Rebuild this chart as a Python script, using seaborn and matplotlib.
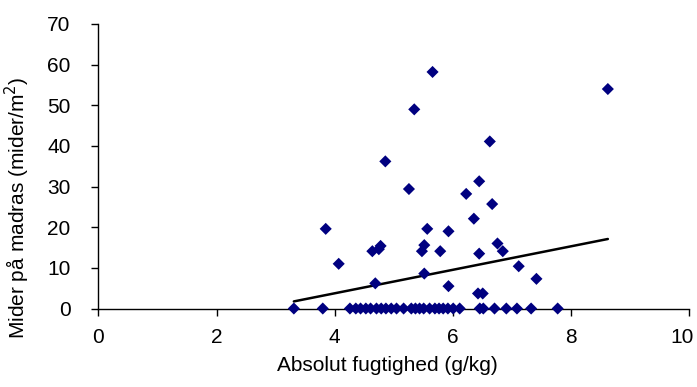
import numpy as np
import matplotlib
matplotlib.use('Agg')
import matplotlib.pyplot as plt
import matplotlib.transforms as mtransforms
import seaborn as sns

# absolute humidity (g/kg) and mites on mattress (mites/m2)
fugt_pos = [5.66, 8.63, 5.35, 6.63, 4.86, 5.26, 6.45, 6.23, 6.67, 6.36,
            3.85, 5.57, 5.93, 4.07, 4.78, 4.64, 4.75, 5.52, 5.48, 5.79,
            6.45, 6.76, 6.85, 7.12, 7.42, 5.52, 4.69, 5.93, 6.43, 6.51]
mider_pos = [58.2, 54.0, 49.0, 41.1, 36.2, 29.4, 31.3, 28.2, 25.7, 22.1,
             19.6, 19.6, 19.0, 11.0, 15.4, 14.1, 14.6, 15.6, 14.1, 14.1,
             13.5, 16.0, 14.1, 10.4, 7.3, 8.6, 6.2, 5.5, 3.7, 3.7]
fugt_zero = [3.31, 3.80, 4.26, 4.36, 4.44, 4.53, 4.61, 4.71, 4.79, 4.87,
             4.96, 5.05, 5.17, 5.30, 5.37, 5.44, 5.51, 5.61, 5.70, 5.77,
             5.84, 5.92, 6.01, 6.12, 6.46, 6.52, 6.71, 6.91, 7.09, 7.33, 7.78]

fugt = np.array(fugt_pos + fugt_zero)
mider = np.array(mider_pos + [0] * len(fugt_zero))

# linear trend
trend_slope = 2.887
trend_intercept = -7.81

fig = plt.figure(figsize=(6.97, 3.87), dpi=100)
sns.set_style('white')
plt.rcParams['font.family'] = ['Liberation Sans', 'DejaVu Sans']
plt.rcParams['text.color'] = 'black'

ax = sns.scatterplot(x=fugt, y=mider, marker='D', s=38, color='#000080',
                     edgecolor='none', zorder=3, clip_on=False)

trend_x = np.array([fugt.min(), fugt.max()])
ax.plot(trend_x, trend_intercept + trend_slope * trend_x, color='black', lw=1.8, zorder=2)

ax.set_xlim(0, 10)
ax.set_ylim(0, 70)
ax.set_xticks(range(0, 11, 2))
ax.set_yticks(range(0, 71, 10))
ax.tick_params(axis='both', labelsize=15, length=5, width=1, color='black',
               labelcolor='black', direction='out')
ax.tick_params(axis='x', pad=9)
ax.tick_params(axis='y', pad=15)
ax.tick_params(axis='both', which='both', bottom=True, left=True)
sns.despine(ax=ax)
for side in ['left', 'bottom']:
    ax.spines[side].set_color('black')
    ax.spines[side].set_linewidth(1)

ax.set_xlabel('Absolut fugtighed (g/kg)', fontsize=15, color='black')
ax.set_ylabel('Mider på madras (mider/m$^2$)', fontsize=15, color='black')
ax.xaxis.set_label_coords(0.49, -0.167)
ax.yaxis.set_label_coords(-0.113, 0.353)

plt.subplots_adjust(left=0.1413, right=0.9881, bottom=0.2028, top=0.938)

# keep the last x tick label inside the picture
fig.canvas.draw()
last = ax.get_xticklabels()[-1]
last.set_transform(last.get_transform() +
                   mtransforms.ScaledTranslation(-5 / 72, 0, fig.dpi_scale_trans))

plt.savefig('out.png', dpi=100)
